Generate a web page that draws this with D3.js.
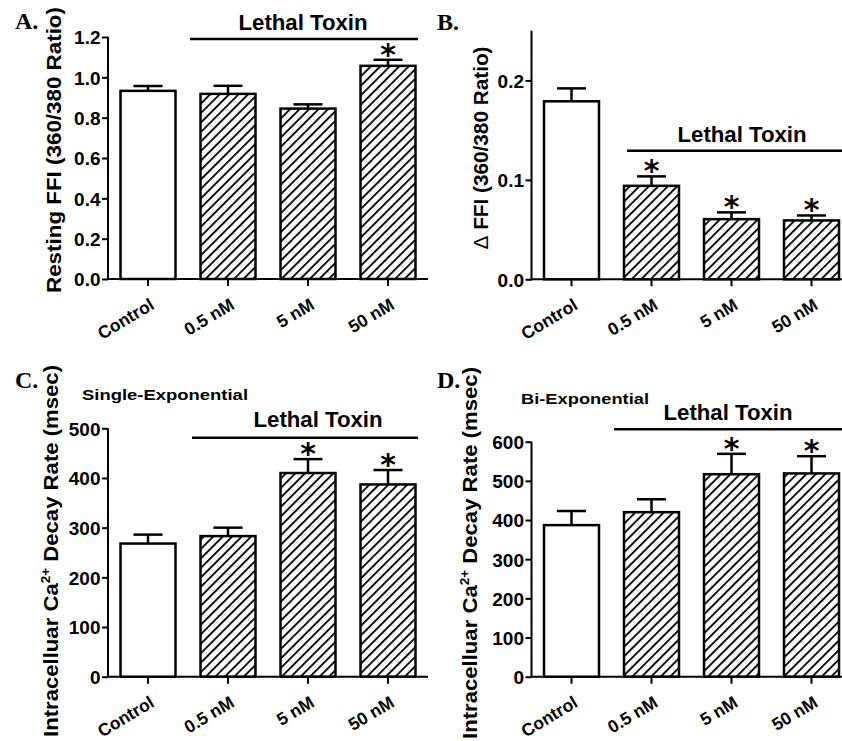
<!DOCTYPE html>
<html>
<head>
<meta charset="utf-8">
<script src="https://cdn.jsdelivr.net/npm/d3@7"></script>
<style>
  html, body { margin: 0; padding: 0; background: #fff; }
  svg { display: block; }
  text { font-family: "Liberation Sans", Arial, sans-serif; font-weight: bold; fill: #000; }
  .letter { font-family: "Liberation Serif", "Times New Roman", serif; font-size: 24px; }
</style>
</head>
<body>
<div id="root"></div>
<script>
// Lethal toxin effects: four bar panels (A-D), mean + SEM, hatched = toxin doses
const groups = ["Control", "0.5 nM", "5 nM", "50 nM"];

const restingFFI = [0.933, 0.918, 0.845, 1.057];
const restingFFIErr = [0.024, 0.04, 0.021, 0.03];
const restingStars = [false, false, false, true];
const restingTicks = [0, 0.2, 0.4, 0.6, 0.8, 1.0, 1.2];

const deltaFFI = [0.179, 0.094, 0.0605, 0.0592];
const deltaFFIErr = [0.013, 0.0095, 0.0068, 0.005];
const deltaStars = [false, true, true, true];
const deltaTicks = [0, 0.1, 0.2];

const singleExp = [268, 283, 410, 387];
const singleExpErr = [18, 17, 28, 29];
const singleStars = [false, false, true, true];
const singleTicks = [0, 100, 200, 300, 400, 500];

const biExp = [387, 420, 517, 519];
const biExpErr = [36, 33, 52, 44];
const biStars = [false, false, true, true];
const biTicks = [0, 100, 200, 300, 400, 500, 600];

const W = 842, H = 741;
const svg = d3.select('#root').append('svg').attr('width', W).attr('height', H);

// diagonal hatch for toxin bars
svg.append('defs').append('pattern')
  .attr('id', 'hatch')
  .attr('patternUnits', 'userSpaceOnUse')
  .attr('width', 6.7).attr('height', 6.7)
  .attr('patternTransform', 'rotate(45)')
  .append('line')
  .attr('x1', 0).attr('y1', 0).attr('x2', 0).attr('y2', 6.7)
  .attr('stroke', '#000').attr('stroke-width', 3.6);

function panel(p) {
  const g = svg.append('g');
  const y = d3.scaleLinear().domain([0, p.yMax]).range([p.y0, p.yTop]);
  const x = d3.scaleBand().domain(groups).range([p.x0, p.x0 + 320]);
  const bw = 55;
  const cx = d => x(d) + x.bandwidth() / 2;

  // y axis
  const ya = g.append('g').attr('transform', `translate(${p.x0},0)`)
    .call(d3.axisLeft(y).tickValues(p.ticks).tickFormat(p.fmt).tickSize(6).tickPadding(1.5).tickSizeOuter(0));
  ya.select('.domain').remove();
  ya.selectAll('line').attr('stroke-width', 2);
  ya.selectAll('text').attr('dy', '0.36em').style('font-size', '19px').style('font-family', '"Liberation Sans", Arial, sans-serif');
  g.append('line').attr('x1', p.x0).attr('x2', p.x0).attr('y1', y.range()[1]).attr('y2', p.y0 + 1)
    .attr('stroke', '#000').attr('stroke-width', 2);

  // x axis
  const xa = g.append('g').attr('transform', `translate(0,${p.y0})`)
    .call(d3.axisBottom(x).tickSize(7).tickSizeOuter(0));
  xa.select('.domain').remove();
  xa.selectAll('line').attr('stroke-width', 2);
  xa.selectAll('text')
    .attr('x', 0).attr('y', 0).attr('dy', 0)
    .attr('text-anchor', 'end')
    .attr('transform', 'translate(7.5,29) rotate(-31)')
    .style('font-size', '17.5px').style('font-family', '"Liberation Sans", Arial, sans-serif');
  g.append('line').attr('x1', p.x0 - 1).attr('x2', p.xEnd).attr('y1', p.y0).attr('y2', p.y0)
    .attr('stroke', '#000').attr('stroke-width', 2);

  // error bars (upper only)
  const eb = g.append('g').attr('stroke', '#000').attr('stroke-width', 2.5);
  groups.forEach((d, i) => {
    const top = y(p.values[i] + p.errs[i]);
    eb.append('line').attr('x1', cx(d)).attr('x2', cx(d)).attr('y1', y(p.values[i])).attr('y2', top);
    eb.append('line').attr('x1', cx(d) - 14.5).attr('x2', cx(d) + 14.5).attr('y1', top).attr('y2', top);
  });

  // bars
  g.append('g').selectAll('rect').data(groups).join('rect')
    .attr('x', d => cx(d) - bw / 2)
    .attr('width', bw)
    .attr('y', (d, i) => y(p.values[i]))
    .attr('height', (d, i) => p.y0 - y(p.values[i]))
    .attr('fill', (d, i) => i === 0 ? '#fff' : 'url(#hatch)')
    .attr('stroke', '#000').attr('stroke-width', 2.5);

  // significance
  g.append('g').selectAll('text').data(groups.filter((d, i) => p.stars[i])).join('text')
    .attr('x', d => cx(d))
    .attr('y', d => y(p.values[groups.indexOf(d)] + p.errs[groups.indexOf(d)]) + 5)
    .attr('text-anchor', 'middle')
    .style('font-family', '"DejaVu Sans", sans-serif')
    .style('font-size', '30px')
    .text('*');

  // Lethal Toxin bracket
  g.append('line').attr('x1', p.ltX1).attr('x2', p.ltX2).attr('y1', p.ltY).attr('y2', p.ltY)
    .attr('stroke', '#000').attr('stroke-width', 2.5);
  g.append('text').attr('x', p.ltTx).attr('y', p.ltTy).attr('text-anchor', 'middle')
    .style('font-size', '22px').attr('textLength', 129).attr('lengthAdjust', 'spacingAndGlyphs')
    .text('Lethal Toxin');

  // panel letter
  g.append('text').attr('class', 'letter').attr('x', p.lx).attr('y', p.ly).text(p.letter);

  // y label
  const yl = g.append('text')
    .attr('transform', `translate(${p.ylx},${p.yly}) rotate(-90)`)
    .attr('text-anchor', 'middle')
    .style('font-size', p.ylSize + 'px')
    .attr('textLength', p.ylLen).attr('lengthAdjust', 'spacingAndGlyphs');
  p.ylabel(yl);

  if (p.sub) {
    g.append('text').attr('x', p.subX).attr('y', p.subY).style('font-size', '15.5px')
      .attr('textLength', p.subLen).attr('lengthAdjust', 'spacingAndGlyphs').text(p.sub);
  }
}

const caLabel = t => {
  t.append('tspan').text('Intracelluar Ca');
  t.append('tspan').attr('dy', -8).style('font-size', '12.5px').text('2+');
  t.append('tspan').attr('dy', 8).text(' Decay Rate (msec)');
};

panel({
  letter: 'A.', lx: 15, ly: 29,
  x0: 108, xEnd: 428, y0: 279, yTop: 37, yMax: 1.2,
  ticks: restingTicks, fmt: d3.format('.1f'),
  values: restingFFI, errs: restingFFIErr, stars: restingStars,
  ltX1: 190, ltX2: 418, ltY: 39, ltTx: 303, ltTy: 30,
  ylx: 61, yly: 150, ylSize: 20, ylLen: 286,
  ylabel: t => t.text('Resting FFI (360/380 Ratio)')
});

panel({
  letter: 'B.', lx: 437, ly: 30,
  x0: 531.5, xEnd: 852, y0: 279.3, yTop: 30.7, yMax: 0.25,
  ticks: deltaTicks, fmt: d3.format('.1f'),
  values: deltaFFI, errs: deltaFFIErr, stars: deltaStars,
  ltX1: 627, ltX2: 842, ltY: 150.7, ltTx: 742, ltTy: 141.5,
  ylx: 488, yly: 148, ylSize: 19.5, ylLen: 203,
  ylabel: t => {
    t.append('tspan').style('font-weight', 'normal').text('\u0394');
    t.append('tspan').text(' FFI (360/380 Ratio)');
  }
});

panel({
  letter: 'C.', lx: 15, ly: 388,
  x0: 108, xEnd: 428, y0: 676.7, yTop: 428.3, yMax: 500,
  ticks: singleTicks, fmt: d3.format('d'),
  values: singleExp, errs: singleExpErr, stars: singleStars,
  ltX1: 192, ltX2: 418, ltY: 437.7, ltTx: 318, ltTy: 427,
  ylx: 58, yly: 551, ylSize: 20.5, ylLen: 372,
  ylabel: caLabel,
  sub: 'Single-Exponential', subX: 82, subY: 400, subLen: 166
});

panel({
  letter: 'D.', lx: 437, ly: 388,
  x0: 531.5, xEnd: 852, y0: 676.7, yTop: 441.7, yMax: 600,
  ticks: biTicks, fmt: d3.format('d'),
  values: biExp, errs: biExpErr, stars: biStars,
  ltX1: 614, ltX2: 842, ltY: 429.3, ltTx: 728, ltTy: 420,
  ylx: 477, yly: 553, ylSize: 20.5, ylLen: 372,
  ylabel: caLabel,
  sub: 'Bi-Exponential', subX: 521, subY: 404, subLen: 128
});
</script>
</body>
</html>
